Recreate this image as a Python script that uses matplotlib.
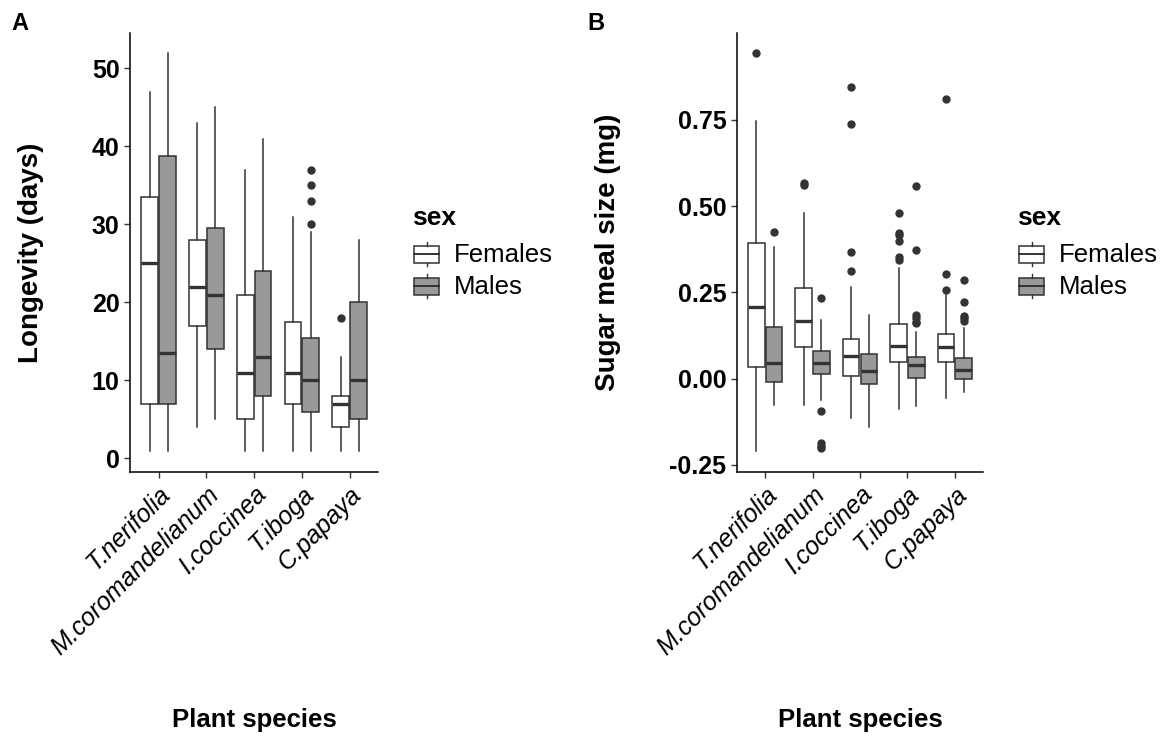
import matplotlib
matplotlib.use("Agg")
import matplotlib.pyplot as plt
from matplotlib.patches import Rectangle

# categories
species = ["T.nerifolia", "M.coromandelianum", "I.coccinea", "T.iboga", "C.papaya"]
sexes = ["Females", "Males"]

# longevity (days) - box stats
long_f_low = [1, 4, 1, 1, 1]
long_f_q1 = [7, 17, 5, 7, 4]
long_f_med = [25, 22, 11, 11, 7]
long_f_q3 = [33.5, 28, 21, 17.5, 8]
long_f_high = [47, 43, 37, 31, 13]
long_f_out = [[], [], [], [], [18]]

long_m_low = [1, 5, 1, 1, 1]
long_m_q1 = [7, 14, 8, 6, 5]
long_m_med = [13.5, 21, 13, 10, 10]
long_m_q3 = [38.75, 29.5, 24, 15.5, 20]
long_m_high = [52, 45, 41, 29, 28]
long_m_out = [[], [], [], [37, 35, 33, 30], []]

# sugar meal size (mg)
sugar_f_low = [-0.21, -0.076, -0.115, -0.088, -0.057]
sugar_f_q1 = [0.035, 0.093, 0.008, 0.048, 0.048]
sugar_f_med = [0.209, 0.168, 0.067, 0.096, 0.091]
sugar_f_q3 = [0.392, 0.264, 0.116, 0.158, 0.129]
sugar_f_high = [0.748, 0.479, 0.265, 0.320, 0.243]
sugar_f_out = [[0.945], [0.566, 0.56], [0.846, 0.737, 0.368, 0.312],
               [0.481, 0.423, 0.416, 0.400, 0.354, 0.344], [0.810, 0.303, 0.256]]

sugar_m_low = [-0.076, -0.062, -0.139, -0.079, -0.038]
sugar_m_q1 = [-0.009, 0.015, -0.016, 0.003, 0.0]
sugar_m_med = [0.046, 0.046, 0.023, 0.039, 0.025]
sugar_m_q3 = [0.151, 0.081, 0.072, 0.064, 0.059]
sugar_m_high = [0.383, 0.170, 0.184, 0.135, 0.146]
sugar_m_out = [[0.425], [0.235, -0.094, -0.187, -0.196, -0.202], [],
               [0.558, 0.373, 0.185, 0.175, 0.165, 0.160], [0.287, 0.222, 0.182, 0.175, 0.168]]

fills = {"Females": "white", "Males": "#999999"}
edge = "#333333"

plt.rcParams["font.family"] = ["Liberation Sans", "DejaVu Sans"]

W, H = 1169, 738
fig = plt.figure(figsize=(W / 100, H / 100), dpi=100)


def make_stats(low, q1, med, q3, high, out):
    return [dict(whislo=low[i], q1=q1[i], med=med[i], q3=q3[i], whishi=high[i], fliers=out[i])
            for i in range(len(low))]


def draw_panel(ax, female, male, ylim, yticks, yticklabels, ylabel, ylab_x):
    pos = range(1, len(species) + 1)
    for stats, sex, off in [(female, "Females", -0.1875), (male, "Males", 0.1875)]:
        ax.bxp(stats, positions=[p + off for p in pos], widths=0.35, patch_artist=True,
               showcaps=False, manage_ticks=False,
               boxprops=dict(facecolor=fills[sex], edgecolor=edge, linewidth=1.1),
               medianprops=dict(color=edge, linewidth=2.4),
               whiskerprops=dict(color=edge, linewidth=1.1),
               flierprops=dict(marker="o", markerfacecolor=edge, markeredgecolor=edge,
                               markersize=5))
    ax.set_xlim(0.4, len(species) + 0.6)
    ax.set_ylim(*ylim)
    ax.set_yticks(yticks)
    ax.set_yticklabels(yticklabels, fontsize=18, fontweight="bold", color="black")
    ax.set_xticks(list(pos))
    ax.set_xticklabels(species, fontsize=18, style="italic", rotation=45,
                       ha="right", va="top", rotation_mode="anchor", color="black")
    for s in ["top", "right"]:
        ax.spines[s].set_visible(False)
    for s in ["left", "bottom"]:
        ax.spines[s].set_linewidth(1.1)
        ax.spines[s].set_color("black")
    ax.tick_params(length=4, width=1.0, color=edge, pad=3.5)
    ax.set_ylabel(ylabel, fontsize=20, fontweight="bold")
    ax.yaxis.set_label_coords(ylab_x, 0.5)
    ax.set_xlabel("Plant species", fontsize=18.5, fontweight="bold", va="center")
    ax.xaxis.set_label_coords(0.5, -0.566)


axA = fig.add_axes([130 / W, 1 - 471.7 / H, 248.3 / W, 438.4 / H])
draw_panel(axA,
           make_stats(long_f_low, long_f_q1, long_f_med, long_f_q3, long_f_high, long_f_out),
           make_stats(long_m_low, long_m_q1, long_m_med, long_m_q3, long_m_high, long_m_out),
           (-1.7, 54.5), [0, 10, 20, 30, 40, 50], ["0", "10", "20", "30", "40", "50"],
           "Longevity (days)", -0.346)

axB = fig.add_axes([736.7 / W, 1 - 471.7 / H, 246.6 / W, 438.4 / H])
draw_panel(axB,
           make_stats(sugar_f_low, sugar_f_q1, sugar_f_med, sugar_f_q3, sugar_f_high, sugar_f_out),
           make_stats(sugar_m_low, sugar_m_q1, sugar_m_med, sugar_m_q3, sugar_m_high, sugar_m_out),
           (-0.2696, 1.001), [-0.25, 0, 0.25, 0.5, 0.75], ["-0.25", "0.00", "0.25", "0.50", "0.75"],
           "Sugar meal size (mg)", -0.469)

# overlay in pixel coordinates for legends and panel letters
ov = fig.add_axes([0, 0, 1, 1], zorder=5)
ov.set_xlim(0, W)
ov.set_ylim(H, 0)
ov.axis("off")

ov.text(20, 24, "A", fontsize=17, fontweight="bold", ha="center", va="center")
ov.text(596, 24, "B", fontsize=17, fontweight="bold", ha="center", va="center")


def draw_legend(x0):
    ov.text(x0, 218, "sex", fontsize=19, fontweight="bold", ha="left", va="center")
    for i, sex in enumerate(sexes):
        cy = 254 + i * 32
        kx = x0 + 2
        ov.plot([kx + 12.5, kx + 12.5], [cy - 12, cy - 8.5], color=edge, lw=1.0)
        ov.plot([kx + 12.5, kx + 12.5], [cy + 8.5, cy + 12], color=edge, lw=1.0)
        ov.add_patch(Rectangle((kx, cy - 8.5), 25, 17, facecolor=fills[sex],
                               edgecolor=edge, lw=1.1))
        ov.plot([kx, kx + 25], [cy, cy], color=edge, lw=1.4)
        ov.text(x0 + 42, cy + 1, sex, fontsize=18.5, ha="left", va="center")


draw_legend(412)
draw_legend(1017)

fig.savefig("out.png", dpi=100)
